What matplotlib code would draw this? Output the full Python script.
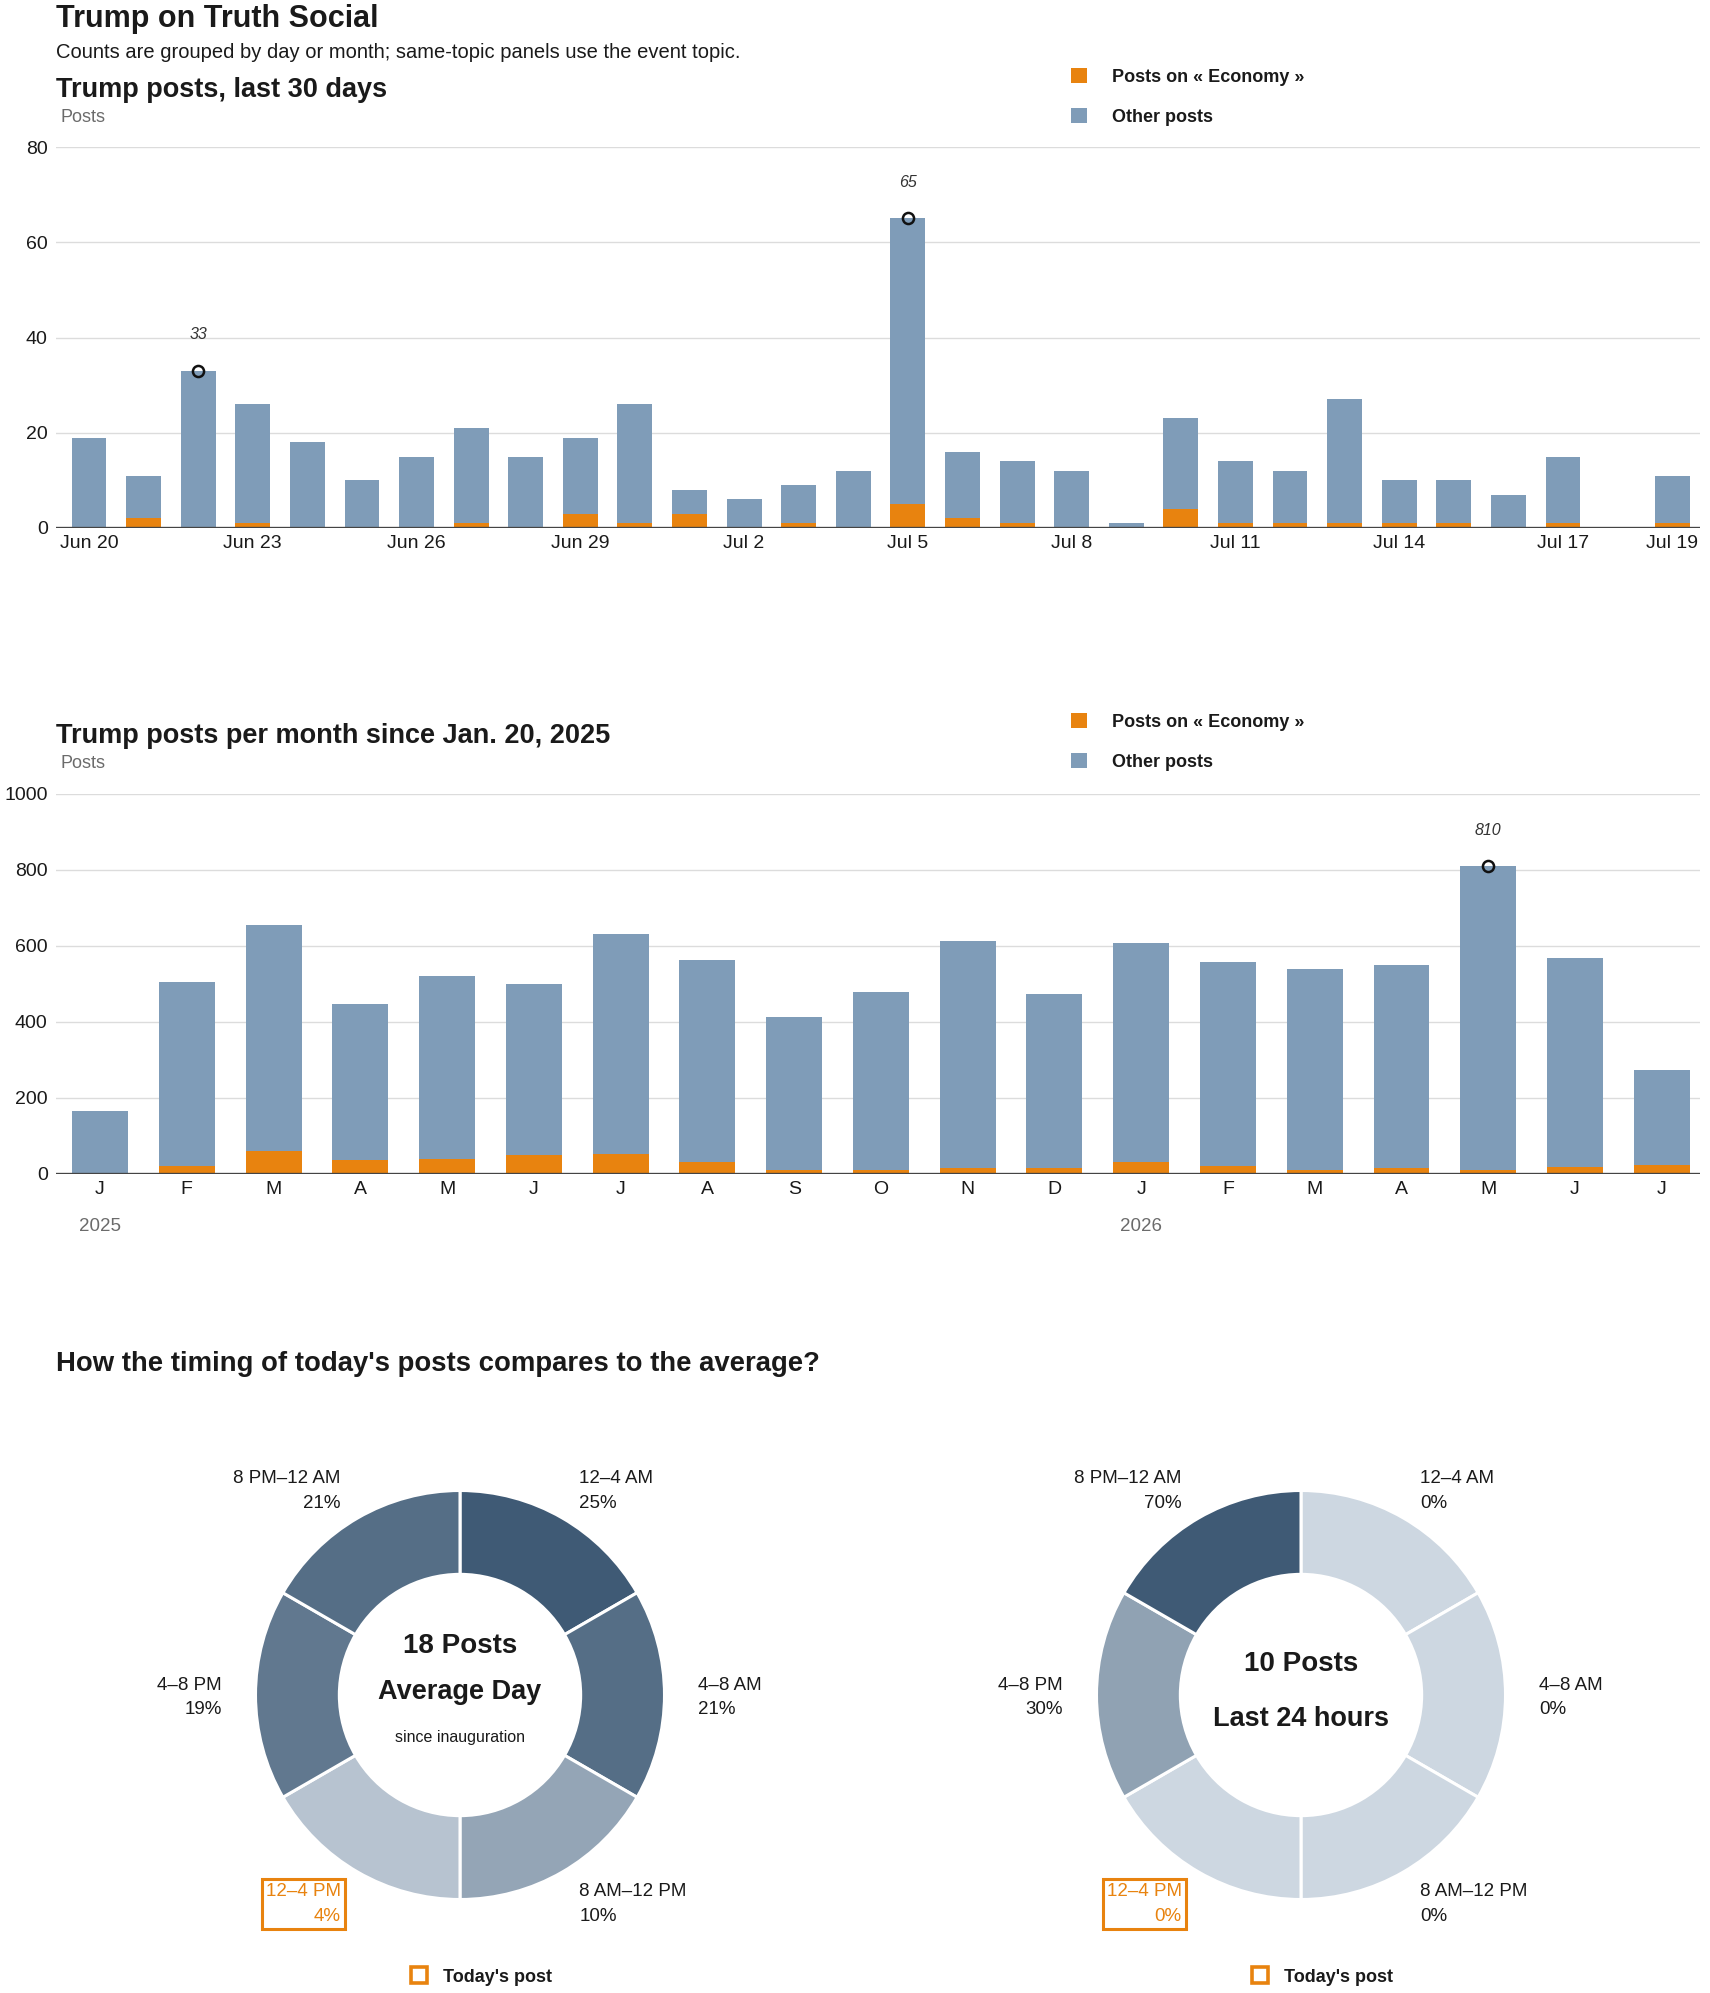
import matplotlib
matplotlib.use("Agg")
import matplotlib.pyplot as plt
from matplotlib import font_manager
from matplotlib.colors import LinearSegmentedColormap, Normalize
from matplotlib.lines import Line2D
import numpy as np

# ---------------- data ----------------
daily_dates = ["Jun 20", "Jun 21", "Jun 22", "Jun 23", "Jun 24", "Jun 25", "Jun 26", "Jun 27",
               "Jun 28", "Jun 29", "Jun 30", "Jul 1", "Jul 2", "Jul 3", "Jul 4", "Jul 5",
               "Jul 6", "Jul 7", "Jul 8", "Jul 9", "Jul 10", "Jul 11", "Jul 12", "Jul 13",
               "Jul 14", "Jul 15", "Jul 16", "Jul 17", "Jul 18", "Jul 19"]
daily_total = [19, 11, 33, 26, 18, 10, 15, 21, 15, 19, 26, 8, 6, 9, 12, 65,
               16, 14, 12, 1, 23, 14, 12, 27, 10, 10, 7, 15, 0, 11]
daily_economy = [0, 2, 0, 1, 0, 0, 0, 1, 0, 3, 1, 3, 0, 1, 0, 5,
                 2, 1, 0, 0, 4, 1, 1, 1, 1, 1, 0, 1, 0, 1]
daily_ticks = ["Jun 20", "Jun 23", "Jun 26", "Jun 29", "Jul 2", "Jul 5", "Jul 8",
               "Jul 11", "Jul 14", "Jul 17", "Jul 19"]
daily_highlight = ["Jun 22", "Jul 5"]

months = ["2025-01", "2025-02", "2025-03", "2025-04", "2025-05", "2025-06", "2025-07",
          "2025-08", "2025-09", "2025-10", "2025-11", "2025-12", "2026-01", "2026-02",
          "2026-03", "2026-04", "2026-05", "2026-06", "2026-07"]
month_letters = ["J", "F", "M", "A", "M", "J", "J", "A", "S", "O", "N", "D",
                 "J", "F", "M", "A", "M", "J", "J"]
monthly_total = [165, 504, 654, 447, 520, 500, 631, 562, 412, 478, 612, 473,
                 608, 557, 539, 549, 810, 568, 273]
monthly_economy = [2, 21, 60, 37, 39, 51, 53, 32, 10, 10, 17, 17,
                   32, 21, 10, 17, 10, 19, 24]
year_labels = {"2025-01": "2025", "2026-01": "2026"}
monthly_highlight = ["2026-05"]

slots = ["12–4 AM", "4–8 AM", "8 AM–12 PM", "12–4 PM", "4–8 PM", "8 PM–12 AM"]
avg_share = [25, 21, 10, 4, 19, 21]
today_share = [0, 0, 0, 0, 30, 70]
todays_slot = "12–4 PM"
avg_posts = 18
today_posts = 10

# ---------------- style ----------------
def pick_font(prefs):
    names = {f.name for f in font_manager.fontManager.ttflist}
    for p in prefs:
        if p in names:
            return p
    return "DejaVu Sans"

FONT = pick_font(["Liberation Sans", "Arial", "Roboto", "DejaVu Sans"])
plt.rcParams["font.family"] = [FONT, "DejaVu Sans"]

ORANGE = "#e8830f"
BLUE = "#7f9cb8"
GRID = "#dcdcdc"
TXT = "#1a1a1a"
GRAY = "#6b6b6b"

W, H = 1710, 1993
fig = plt.figure(figsize=(W / 100, H / 100), dpi=100)
fig.patch.set_facecolor("white")


def fx(x):
    return x / W


def fy(y):
    return 1 - y / H


def add_ax(left, top, right, bottom):
    return fig.add_axes([fx(left), fy(bottom), (right - left) / W, (bottom - top) / H])


# ---------------- headings ----------------
fig.text(fx(56), fy(27), "Trump on Truth Social", fontsize=22, fontweight="bold", color=TXT, va="baseline")
fig.text(fx(56), fy(58), "Counts are grouped by day or month; same-topic panels use the event topic.",
         fontsize=14.5, color=TXT, va="baseline")
fig.text(fx(56), fy(97), "Trump posts, last 30 days", fontsize=19.5, fontweight="bold", color=TXT, va="baseline")
fig.text(fx(60), fy(122), "Posts", fontsize=13, color=GRAY, va="baseline")

fig.text(fx(56), fy(743), "Trump posts per month since Jan. 20, 2025", fontsize=19.5, fontweight="bold",
         color=TXT, va="baseline")
fig.text(fx(60), fy(768), "Posts", fontsize=13, color=GRAY, va="baseline")

fig.text(fx(56), fy(1371), "How the timing of today's posts compares to the average?", fontsize=19.8,
         fontweight="bold", color=TXT, va="baseline")


def style_bar_axis(ax, yticks):
    for s in ax.spines.values():
        s.set_visible(False)
    ax.set_yticks(yticks)
    ax.tick_params(axis="both", length=0, labelsize=14, labelcolor=TXT)
    ax.tick_params(axis="y", pad=6)
    ax.tick_params(axis="x", pad=5)
    for t in yticks[1:]:
        ax.axhline(t, color=GRID, lw=1, zorder=0)
    ax.axhline(0, color="#444444", lw=2.4, zorder=5)


def bar_legend(ax, h1, h2, top_y):
    leg = ax.legend([h1, h2], ["Posts on « Economy »", "Other posts"],
                    loc="upper left", bbox_to_anchor=(fx(1071), fy(top_y)),
                    bbox_transform=fig.transFigure, frameon=False,
                    prop={"weight": "bold", "size": 13}, handlelength=0.9, handleheight=0.9,
                    handletextpad=1.35, labelspacing=1.25, borderpad=0, borderaxespad=0)
    for t in leg.get_texts():
        t.set_color(TXT)


# ---------------- daily chart ----------------
ax1 = add_ax(56, 147, 1700, 528)
x1 = np.arange(len(daily_dates))
d_tot = np.array(daily_total)
d_eco = np.array(daily_economy)
b_eco = ax1.bar(x1, d_eco, width=0.64, color=ORANGE, zorder=2)
b_oth = ax1.bar(x1, d_tot - d_eco, bottom=d_eco, width=0.64, color=BLUE, zorder=2)
ax1.set_ylim(0, 80)
ax1.set_xlim(-0.605, len(daily_dates) - 1 + 0.51)
style_bar_axis(ax1, [0, 20, 40, 60, 80])
ax1.set_xticks([daily_dates.index(d) for d in daily_ticks])
ax1.set_xticklabels(daily_ticks)
for d in daily_highlight:
    i = daily_dates.index(d)
    ax1.plot(i, daily_total[i], marker="o", ms=8, mfc="none", mec="#111111", mew=1.8, zorder=6)
    ax1.annotate(str(daily_total[i]), (i, daily_total[i]), xytext=(0, 26), textcoords="offset points",
                 ha="center", va="center", fontsize=11.5, fontstyle="italic", color="#333333")
bar_legend(ax1, b_eco, b_oth, 68)

# ---------------- monthly chart ----------------
ax2 = add_ax(56, 794, 1700, 1174)
x2 = np.arange(len(months))
m_tot = np.array(monthly_total)
m_eco = np.array(monthly_economy)
m_b_eco = ax2.bar(x2, m_eco, width=0.645, color=ORANGE, zorder=2)
m_b_oth = ax2.bar(x2, m_tot - m_eco, bottom=m_eco, width=0.645, color=BLUE, zorder=2)
ax2.set_ylim(0, 1000)
ax2.set_xlim(-0.507, len(months) - 1 + 0.44)
style_bar_axis(ax2, [0, 200, 400, 600, 800, 1000])
ax2.set_xticks(x2)
ax2.set_xticklabels(month_letters)
for m, yl in year_labels.items():
    i = months.index(m)
    ax2.annotate(yl, (i, 0), xycoords=("data", "axes fraction"), xytext=(0, -38),
                 textcoords="offset points", ha="center", va="center", fontsize=13.5, color=GRAY)
for m in monthly_highlight:
    i = months.index(m)
    ax2.plot(i, monthly_total[i], marker="o", ms=8, mfc="none", mec="#111111", mew=1.8, zorder=6)
    ax2.annotate(str(monthly_total[i]), (i, monthly_total[i]), xytext=(0, 26), textcoords="offset points",
                 ha="center", va="center", fontsize=11.5, fontstyle="italic", color="#333333")
bar_legend(ax2, m_b_eco, m_b_oth, 713)

# ---------------- donuts ----------------
cmap = LinearSegmentedColormap.from_list("slots", ["#cdd7e1", "#3f5a75"])
R = 204.5
LIM = 1.25


def donut(cx, cy, shares, center_lines):
    size = 2 * LIM * R
    ax = fig.add_axes([fx(cx - size / 2), fy(cy + size / 2), size / W, size / H])
    norm = Normalize(0, max(shares))
    cols = [cmap(norm(s)) for s in shares]
    ax.pie([1] * len(slots), colors=cols, startangle=90, counterclock=False, radius=1,
           wedgeprops=dict(width=0.41, edgecolor="white", linewidth=2.2))
    ax.set_xlim(-LIM, LIM)
    ax.set_ylim(-LIM, LIM)
    ax.set_aspect("equal")
    ax.axis("off")
    r = 1.166
    n = len(slots)
    for i, (lab, s) in enumerate(zip(slots, shares)):
        th = np.deg2rad((i + 0.5) * 360 / n)
        xx, yy = r * np.sin(th), r * np.cos(th) - 0.012
        right = np.sin(th) > 0
        kw = dict(ha="left" if right else "right", va="center", fontsize=13.5,
                  multialignment="left" if right else "right", linespacing=1.6)
        if lab == todays_slot:
            ax.text(xx, yy, f"{lab}\n{s}%", color=ORANGE,
                    bbox=dict(boxstyle="square,pad=0.22", fc="none", ec=ORANGE, lw=2.2), **kw)
        else:
            ax.text(xx, yy, f"{lab}\n{s}%", color=TXT, **kw)
    for (txt, yy, fs, fw) in center_lines:
        ax.text(0, yy, txt, ha="center", va="center", fontsize=fs, fontweight=fw, color=TXT)
    h = Line2D([], [], linestyle="none", marker="s", ms=12, mfc="white", mec=ORANGE, mew=2.6)
    leg = ax.legend([h], ["Today's post"], loc="center left",
                    bbox_to_anchor=(fx(cx - 50), fy(1977)), bbox_transform=fig.transFigure,
                    frameon=False, prop={"weight": "bold", "size": 13}, handlelength=1.0,
                    handletextpad=0.8, borderpad=0, borderaxespad=0)
    for t in leg.get_texts():
        t.set_color(TXT)
    return ax


donut(460, 1695, avg_share, [(f"{avg_posts} Posts", 0.24, 20, "bold"),
                             ("Average Day", 0.015, 19.5, "bold"),
                             ("since inauguration", -0.21, 11.5, "normal")])
donut(1301, 1695, today_share, [(f"{today_posts} Posts", 0.152, 20, "bold"),
                                ("Last 24 hours", -0.117, 19.5, "bold")])

fig.savefig("out.png", dpi=100, facecolor="white")
